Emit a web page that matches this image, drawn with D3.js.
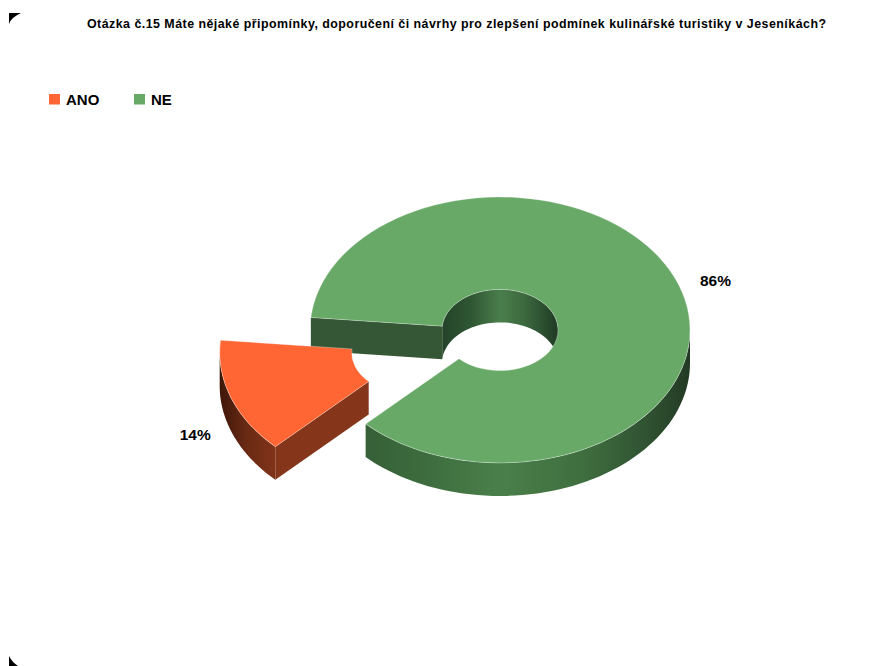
<!DOCTYPE html>
<html lang="cs">
<head>
<meta charset="utf-8">
<style>
  html, body { margin: 0; padding: 0; background: #fff; }
  svg { display: block; }
  text { font-family: "Liberation Sans", Arial, sans-serif; fill: #000; font-weight: bold; }
</style>
<script src="https://cdn.jsdelivr.net/npm/d3@7/dist/d3.min.js"></script>
</head>
<body>
<svg id="chart" width="890" height="666"></svg>
<script>
const chartTitle = "Otázka č.15 Máte nějaké připomínky, doporučení či návrhy pro zlepšení podmínek kulinářské turistiky v Jeseníkách?";
const categories = ["ANO", "NE"];
const values = [14, 86];
const faceColors = ["#ff6633", "#68a968"];

const center = { x: 500, y: 330 };
const outerR = 190, innerR = 58;
const tilt = 0.7;      // vertical squash of the disk plane
const depth = 33;      // extrusion height in pixels
const explodeR = 96;   // pull-out distance of the exploded slice
const exploded = new Set(["ANO"]);
const deg = d3.scaleLinear().domain([0, 180]).range([0, Math.PI]);

const svg = d3.select("#chart");
const defs = svg.append("defs");
const color = d3.scaleOrdinal().domain(categories).range(faceColors);

const slices = d3.pie().sort(null).value(d => d.value)
  .startAngle(deg(225)).endAngle(deg(585))(categories.map((name, i) => ({ name, value: values[i] })));

const faceArc = d3.arc().innerRadius(innerR).outerRadius(outerR);

// Disk-plane polar coordinates to screen coordinates, clockwise from north
const project = (o, r, a, z = 0) => [
  o.x + r * Math.sin(a),
  o.y - r * Math.cos(a) * tilt + z
];
const originOf = d => {
  if (!exploded.has(d.data.name)) return center;
  const mid = (d.startAngle + d.endAngle) / 2;
  return {
    x: center.x + explodeR * Math.sin(mid),
    y: center.y - explodeR * Math.cos(mid) * tilt
  };
};

const line = d3.line();
// Extruded wall following an arc of radius r between two angles
function wallPath(o, r, a0, a1) {
  const t = d3.range(0, 1.0001, 1 / 60).map(k => a0 + (a1 - a0) * k);
  const top = t.map(a => project(o, r, a));
  const bottom = t.slice().reverse().map(a => project(o, r, a, depth));
  return line(top.concat(bottom)) + "Z";
}
// Extruded flat wall along a radial cut
function cutPath(o, a) {
  return line([
    project(o, innerR, a), project(o, outerR, a),
    project(o, outerR, a, depth), project(o, innerR, a, depth)
  ]) + "Z";
}
function gradient(id, x1, x2, stops) {
  const g = defs.append("linearGradient").attr("id", id)
    .attr("gradientUnits", "userSpaceOnUse")
    .attr("x1", x1).attr("x2", x2).attr("y1", 0).attr("y2", 0);
  stops.forEach(([o, c]) => g.append("stop").attr("offset", o).attr("stop-color", c));
  return `url(#${id})`;
}

const ano = slices[0], ne = slices[1];
const anoO = originOf(ano), neO = originOf(ne);

const wallNE = gradient("wallNE", neO.x - outerR, neO.x + outerR, [
  [0, "#2f5430"], [0.3, "#3d6c3e"], [0.5, "#4a7f4a"], [0.72, "#3f6e3f"], [0.9, "#2f5030"], [1, "#223a24"]
]);
const holeNE = gradient("holeNE", neO.x - innerR, neO.x + innerR, [
  [0, "#24432a"], [0.25, "#2f5632"], [0.5, "#4a7e4c"], [0.72, "#3c683e"], [1, "#1f3a24"]
]);
const wallANO = gradient("wallANO", anoO.x - outerR, anoO.x - outerR + 60, [
  [0, "#3e170a"], [0.45, "#6a2a14"], [1, "#84351a"]
]);

const disk = svg.append("g").attr("class", "disk");

// Back-facing parts of the large slice
disk.append("path").attr("d", cutPath(neO, ne.startAngle)).attr("fill", "#355736");
disk.append("path").attr("d", wallPath(neO, innerR, ne.startAngle, deg(450))).attr("fill", holeNE);
disk.append("path").attr("d", wallPath(neO, outerR, deg(450), ne.endAngle)).attr("fill", wallNE);

// Walls of the exploded slice
disk.append("path").attr("d", wallPath(anoO, outerR, deg(225), deg(270))).attr("fill", wallANO);
disk.append("path").attr("d", cutPath(anoO, ano.startAngle)).attr("fill", "#84351a");

// Top faces, squashed onto the tilted plane
disk.selectAll("path.face").data(slices).join("path")
  .attr("class", "face")
  .attr("d", faceArc)
  .attr("transform", d => {
    const o = originOf(d);
    return `translate(${o.x},${o.y}) scale(1,${tilt})`;
  })
  .attr("fill", d => color(d.data.name))
  .attr("stroke", "rgba(255,255,255,0.4)")
  .attr("stroke-width", 0.8)
  .attr("vector-effect", "non-scaling-stroke");

// Title
svg.append("text").attr("x", 456.5).attr("y", 28)
  .attr("text-anchor", "middle").attr("font-size", 12.4)
  .attr("textLength", 739).attr("lengthAdjust", "spacing")
  .text(chartTitle);

// Legend
const legendX = d3.scaleOrdinal().domain(categories).range([49, 134]);
const legend = svg.append("g").selectAll("g").data(categories).join("g")
  .attr("transform", d => `translate(${legendX(d)},94)`);
legend.append("rect").attr("width", 11).attr("height", 10.5).attr("fill", d => color(d));
legend.append("text").attr("x", 17).attr("y", 11).attr("font-size", 15).text(d => d);

// Percentage labels
const labelR = 229;
const labelNudge = { ANO: [1, 28], NE: [0, 5] };
svg.append("g").selectAll("text").data(slices).join("text")
  .attr("text-anchor", "middle").attr("font-size", 15.5)
  .attr("x", d => project(originOf(d), labelR, (d.startAngle + d.endAngle) / 2)[0] + labelNudge[d.data.name][0])
  .attr("y", d => project(originOf(d), labelR, (d.startAngle + d.endAngle) / 2)[1] + labelNudge[d.data.name][1] + 5)
  .text(d => `${d.value}%`);

// Scanned corner marks on the left edge of the sheet
svg.append("path").attr("fill", "#000").attr("d", "M9,13 L21,13 Q11,17.5 9,24 Z");
svg.append("path").attr("fill", "#000").attr("d", "M9,656 L9,666 L18,666 Q12,662 9,656 Z");
</script>
</body>
</html>
